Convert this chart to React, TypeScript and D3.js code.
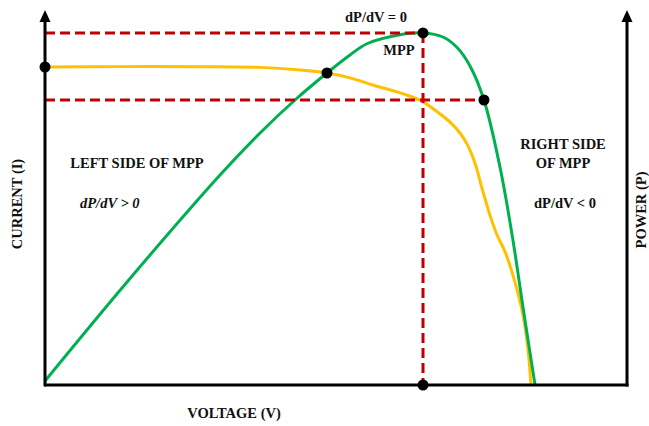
import React from "react";
import * as d3 from "d3";

// I-V curve (yellow), voltage in V, current in A
const ivVoltage = [0, 5.15, 10.65, 14.78, 17.53, 19.38, 20.96, 22.54, 24.88, 25.98, 27.15, 27.84, 28.52, 29.0, 29.55, 30.03, 30.58, 31.07, 31.62, 32.16, 32.85, 33.2, 33.4];
const ivCurrent = [8.48, 8.49, 8.49, 8.47, 8.4, 8.32, 8.19, 8.0, 7.73, 7.55, 7.23, 7.01, 6.72, 6.43, 5.92, 5.25, 4.53, 4.0, 3.55, 2.93, 1.87, 0.93, 0];

// P-V curve (green), voltage in V, power in W
const pvVoltage = [0, 5.64, 12.03, 14.78, 17.18, 19.38, 20.96, 22.13, 24.4, 25.98, 27.35, 28.32, 29.21, 30.17, 31.27, 32.16, 32.85, 33.68];
const pvPower = [2.7, 68.7, 140, 168, 190, 208, 220, 227.5, 233.5, 234.7, 232, 225, 212.7, 190, 145.3, 96.7, 52, 0];

// marked points
const iscCurrent = 8.48;
const crossVoltage = 19.38;
const crossCurrent = 8.32;
const mppVoltage = 25.98;
const mppPower = 234.7;
const refCurrent = 7.6;
const refVoltage = 30.17;
const refPower = 190;

const width = 649;
const height = 426;
const left = 45, right = 627, bottom = 385, top = 10;

const font = "'Liberation Serif', 'Times New Roman', serif";
const RED = "#c00000";
const YELLOW = "#ffc000";
const GREEN = "#00b050";

const App = () => {
    const x = d3.scaleLinear().domain([0, 40]).range([left, right]);
    const yI = d3.scaleLinear().domain([0, 10]).range([bottom, top]);
    const yP = d3.scaleLinear().domain([0, 250]).range([bottom, top]);

    const ivData = ivVoltage.map((v, i) => [v, ivCurrent[i]]);
    const pvData = pvVoltage.map((v, i) => [v, pvPower[i]]);

    const ivLine = d3.line<number[]>()
        .x(d => x(d[0]))
        .y(d => yI(d[1]))
        .curve(d3.curveCatmullRom.alpha(0.5));
    const pvLine = d3.line<number[]>()
        .x(d => x(d[0]))
        .y(d => yP(d[1]))
        .curve(d3.curveCatmullRom.alpha(0.5));

    const arrow = (cx: number) =>
        `M${cx},${top} L${cx - 5.5},${top + 12} L${cx + 5.5},${top + 12} Z`;

    const dots = [
        [x(0), yI(iscCurrent)],
        [x(crossVoltage), yI(crossCurrent)],
        [x(mppVoltage), yP(mppPower)],
        [x(refVoltage), yP(refPower)],
        [x(mppVoltage), bottom],
    ];

    const textStyle = {fontFamily: font, fontWeight: "bold", fontSize: 14.5, fill: "#111"} as const;

    return (
        <svg width={width} height={height}
             style={{position: "absolute", left: 0, top: 0, background: "#fff"}}>
            <path d={ivLine(ivData) || ""} fill="none" stroke={YELLOW} strokeWidth={3}/>
            <path d={pvLine(pvData) || ""} fill="none" stroke={GREEN} strokeWidth={3}/>

            {/* dashed guides */}
            <g stroke={RED} strokeWidth={3} strokeDasharray="10,5" fill="none">
                <line x1={left} x2={x(mppVoltage)} y1={yP(mppPower)} y2={yP(mppPower)}/>
                <line x1={left} x2={x(refVoltage)} y1={yI(refCurrent)} y2={yI(refCurrent)}/>
                <line x1={x(mppVoltage)} x2={x(mppVoltage)} y1={yP(mppPower)} y2={bottom}/>
            </g>

            {/* axes */}
            <g stroke="#000" strokeWidth={3}>
                <line x1={left} x2={left} y1={bottom + 1.5} y2={top + 8}/>
                <line x1={right} x2={right} y1={bottom + 1.5} y2={top + 8}/>
                <line x1={left} x2={right + 1.5} y1={bottom} y2={bottom}/>
            </g>
            <path d={arrow(left)} fill="#000"/>
            <path d={arrow(right)} fill="#000"/>

            {dots.map((d, i) => (
                <circle key={i} cx={d[0]} cy={d[1]} r={5.5} fill="#000"/>
            ))}

            <text x={376} y={22} textAnchor="middle" style={textStyle}>dP/dV = 0</text>
            <text x={399} y={55} textAnchor="middle" style={textStyle}>MPP</text>
            <text x={137} y={168} textAnchor="middle" style={textStyle}>LEFT SIDE OF MPP</text>
            <text x={80} y={208} style={{...textStyle, fontStyle: "italic"}}>dP/dV &gt; 0</text>
            <text x={563} y={149} textAnchor="middle" style={textStyle}>RIGHT SIDE</text>
            <text x={563} y={168} textAnchor="middle" style={textStyle}>OF MPP</text>
            <text x={565} y={208} textAnchor="middle" style={textStyle}>dP/dV &lt; 0</text>
            <text x={234} y={418} textAnchor="middle" style={textStyle}>VOLTAGE (V)</text>
            <text transform="translate(22,204) rotate(-90)" textAnchor="middle" style={textStyle}>CURRENT (I)</text>
            <text transform="translate(646,210) rotate(-90)" textAnchor="middle" style={textStyle}>POWER (P)</text>
        </svg>
    );
};

export default App;
